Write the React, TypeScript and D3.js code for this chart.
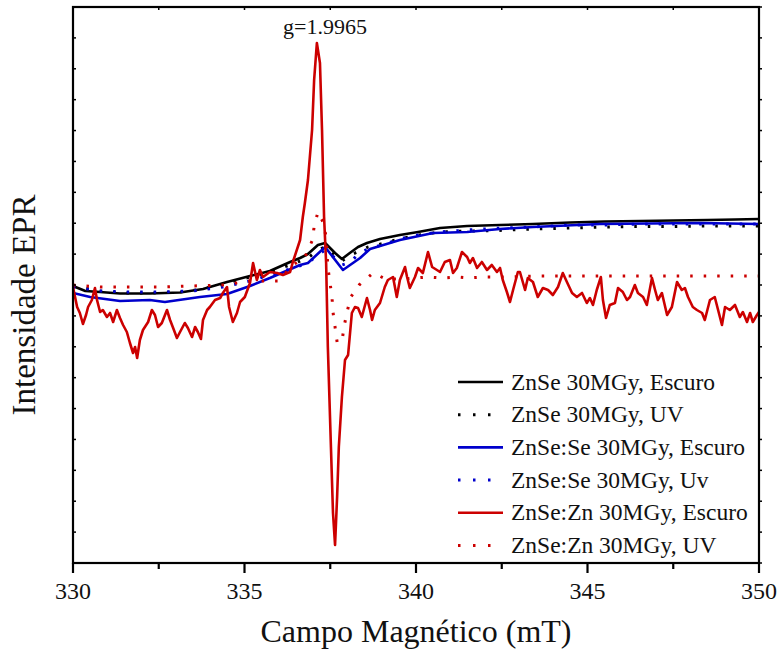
import React from "react";
import * as d3 from "d3";

// ---------- DATA (field in mT, intensity in arbitrary units) ----------
const xTicksMajor = [330, 335, 340, 345, 350];
const xTicksMinor = [332.5, 337.5, 342.5, 347.5];

const znseDark: [number, number][] = [
  [330.0, -1], [330.36, -6], [330.79, -7], [331.37, -8.5], [332.24, -8.5], [333.12, -7.5],
  [333.79, -4], [334.49, 3], [335.16, 9], [335.74, 14], [336.33, 23], [336.62, 27],
  [336.85, 31], [337.14, 40], [337.35, 42], [337.64, 32], [337.84, 26], [338.07, 32],
  [338.31, 38], [338.57, 42], [338.95, 46], [339.53, 50], [340.06, 53], [340.7, 57],
  [341.49, 59], [342.45, 60], [343.41, 61], [344.5, 62.5], [345.5, 63.5], [346.53, 64],
  [347.5, 64.5], [348.5, 65], [349.3, 65.5], [350.0, 66],
];

const znseUV: [number, number][] = [
  [330.0, -1], [330.79, -6], [331.37, -8], [332.24, -8], [333.12, -7], [333.79, -4],
  [334.49, 2], [335.16, 8], [335.74, 13], [336.33, 20], [336.85, 27], [337.14, 35],
  [337.35, 38], [337.84, 24], [338.1, 30], [338.6, 38], [339.1, 42], [339.5, 46],
  [340.1, 50], [340.7, 53], [341.5, 54], [342.4, 54.5], [343.4, 56], [344.5, 57],
  [345.5, 58], [346.5, 58.5], [347.5, 58.5], [348.5, 59], [349.3, 59], [350.0, 59],
];

const znseSeDark: [number, number][] = [
  [330.0, -8], [330.5, -12], [331.37, -16], [332.24, -15], [332.68, -17], [333.7, -12],
  [334.49, -9], [335.16, -1], [335.74, 7], [336.62, 20], [336.85, 22], [337.35, 38],
  [337.87, 15], [338.37, 27], [338.66, 36], [339.53, 45], [340.5, 52], [341.49, 53],
  [342.45, 56], [343.41, 58], [345.36, 61], [348.28, 62], [350.0, 61],
];

const znseSeUV: [number, number][] = [
  [330.0, -2], [330.79, -6], [331.66, -7], [332.54, -7], [333.47, -6], [334.37, -2],
  [335.16, 4], [335.74, 10], [336.33, 16], [336.85, 22], [337.14, 30], [337.35, 35],
  [337.6, 28], [337.84, 20], [338.1, 23], [338.34, 32], [338.6, 36], [339.1, 41],
  [339.53, 46], [340.06, 50], [340.7, 53], [341.5, 55], [342.5, 57], [343.4, 58],
  [344.5, 60], [345.5, 60], [346.5, 61], [347.5, 61], [348.5, 61], [349.3, 61], [350.0, 61],
];

const znseZnDark: [number, number][] = [
  [330.0, -2], [330.12, -22], [330.2, -28], [330.29, -39], [330.38, -30], [330.44, -22],
  [330.55, -15], [330.64, -3], [330.7, -15], [330.79, -27], [330.87, -25], [330.99, -32],
  [331.08, -28], [331.17, -37], [331.28, -25], [331.37, -33], [331.46, -40], [331.57, -47],
  [331.66, -58], [331.75, -68], [331.81, -62], [331.87, -73], [331.95, -55], [332.04, -45],
  [332.19, -37], [332.3, -25], [332.39, -30], [332.48, -42], [332.59, -38], [332.74, -25],
  [332.83, -35], [332.92, -43], [333.03, -53], [333.12, -47], [333.26, -38], [333.35, -43],
  [333.47, -52], [333.56, -42], [333.64, -47], [333.73, -54], [333.79, -35], [333.91, -25],
  [333.99, -22], [334.14, -15], [334.29, -13], [334.37, -8], [334.49, -2], [334.55, -22],
  [334.66, -37], [334.78, -28], [334.87, -17], [335.01, -12], [335.16, 2], [335.25, 22],
  [335.36, 5], [335.45, 15], [335.54, 8], [335.74, 13], [335.95, 12], [336.12, 10],
  [336.33, 13], [336.41, 23], [336.62, 45], [336.7, 68], [336.76, 82], [336.85, 105],
  [336.97, 155], [337.03, 205], [337.11, 242], [337.2, 222], [337.26, 155], [337.32, 68],
  [337.38, 22], [337.43, -62], [337.52, -162], [337.58, -228], [337.64, -260], [337.7, -212],
  [337.75, -162], [337.84, -112], [337.93, -75], [338.02, -70], [338.13, -28], [338.22, -22],
  [338.31, -23], [338.42, -32], [338.57, -13], [338.66, -25], [338.72, -35], [338.8, -25],
  [338.95, -18], [339.09, -2], [339.18, 5], [339.33, 8], [339.44, -12], [339.53, 5],
  [339.68, 18], [339.74, 8], [339.82, -3], [339.97, 8], [340.06, 17], [340.2, 12],
  [340.35, 33], [340.47, 18], [340.61, 15], [340.7, 13], [340.84, 23], [340.99, 25],
  [341.08, 12], [341.19, 17], [341.34, 33], [341.49, 28], [341.57, 22], [341.66, 27],
  [341.78, 17], [341.92, 23], [342.07, 15], [342.21, 20], [342.36, 13], [342.45, 17],
  [342.53, 5], [342.65, -7], [342.74, -17], [342.83, -5], [342.97, 13], [343.03, 13],
  [343.18, -5], [343.26, 7], [343.41, 3], [343.55, -12], [343.7, -3], [343.85, -5],
  [343.99, -10], [344.14, -2], [344.28, 12], [344.4, 3], [344.55, -8], [344.69, -12],
  [344.84, -8], [344.98, -18], [345.07, -13], [345.16, -20], [345.27, -5], [345.39, 8],
  [345.45, -15], [345.54, -33], [345.65, -20], [345.8, -18], [345.89, -3], [346.03, -7],
  [346.15, -15], [346.24, -12], [346.38, 0], [346.47, -8], [346.62, -12], [346.73, -20],
  [346.88, 7], [346.97, -5], [347.05, -15], [347.17, -8], [347.32, -30], [347.46, -22],
  [347.61, 3], [347.75, -5], [347.84, -3], [347.93, -12], [348.07, -22], [348.19, -25],
  [348.34, -28], [348.42, -35], [348.57, -15], [348.71, -12], [348.92, -40], [349.01, -22],
  [349.15, -25], [349.3, -20], [349.44, -32], [349.53, -27], [349.65, -37], [349.74, -28],
  [349.82, -37], [349.94, -30], [350.0, -27],
];

const znseZnUV: [number, number][] = [
  [330.0, 0], [330.79, -2], [331.66, -2], [332.54, -2], [333.47, -1], [334.37, 0],
  [335.16, 4], [335.98, 4], [336.41, 20], [336.76, 28], [336.97, 44], [337.03, 58],
  [337.14, 73], [337.29, 63], [337.38, 48], [337.43, 18], [337.49, 3], [337.55, -12],
  [337.58, -27], [337.64, -42], [337.7, -57], [337.84, -57], [337.9, -42], [337.99, -27],
  [338.1, -12], [338.34, 0], [338.75, 12], [339.12, 6], [339.62, 6], [340.35, 8],
  [340.76, 7], [341.19, 8], [341.51, 7], [341.95, 8], [342.71, 8], [343.5, 9], [350.0, 9],
];

const seriesNames = [
  "ZnSe 30MGy, Escuro",
  "ZnSe 30MGy, UV",
  "ZnSe:Se 30MGy, Escuro",
  "ZnSe:Se 30MGy, Uv",
  "ZnSe:Zn 30MGy, Escuro",
  "ZnSe:Zn 30MGy, UV",
];
const seriesData = [znseDark, znseUV, znseSeDark, znseSeUV, znseZnDark, znseZnUV];
const seriesColors = ["#000000", "#000000", "#0000cc", "#0000cc", "#cc0000", "#cc0000"];
const seriesDotted = [false, true, false, true, false, true];

const xLabel = "Campo Magnético (mT)";
const yLabel = "Intensidade EPR";
const peakLabel = "g=1.9965";

// ---------- LAYOUT ----------
const W = 778;
const H = 650;
const L = 73, R = 759, T = 7, B = 563;
const FONT = "'Liberation Serif', 'Times New Roman', serif";
const txt = { fontFamily: FONT, fill: "#111" } as React.CSSProperties;

export default function App() {
  const x = d3.scaleLinear().domain([330, 350]).range([L, R]);
  const y = d3.scaleLinear().domain([-278, 278]).range([B, T]);
  const line = d3
    .line<[number, number]>()
    .x((d) => x(d[0]))
    .y((d) => y(d[1]))
    .curve(d3.curveLinear);

  const yTickVals = d3.range(0, 19).map((k) => -278 + (556 / 18) * k);
  const topTicks = d3.range(330, 350.01, 2.5);

  const legendX1 = 458, legendX2 = 503, legendTextX = 511;
  const legendY0 = 382, legendDy = 32.7;

  return (
    <svg
      width={W}
      height={H}
      style={{ position: "absolute", left: 0, top: 0, background: "#fff" }}
    >
      <rect x={0} y={0} width={W} height={H} fill="#fff" />
      <defs>
        <clipPath id="plotclip">
          <rect x={L} y={T} width={R - L} height={B - T} />
        </clipPath>
      </defs>

      {/* series */}
      <g clipPath="url(#plotclip)">
        {seriesData.map((d, i) => (
          <path
            key={i}
            d={line(d) || ""}
            fill="none"
            stroke={seriesColors[i]}
            strokeWidth={seriesDotted[i] ? 3 : 2.6}
            strokeDasharray={seriesDotted[i] ? "2.5 11" : undefined}
            strokeLinejoin="round"
          />
        ))}
      </g>

      {/* frame */}
      <rect x={L} y={T} width={R - L} height={B - T} fill="none" stroke="#000" strokeWidth={2.2} />

      {/* bottom ticks */}
      {xTicksMajor.map((v) => (
        <g key={"M" + v}>
          <line x1={x(v)} x2={x(v)} y1={B} y2={B + 10} stroke="#000" strokeWidth={2.2} />
          <text x={x(v)} y={599} textAnchor="middle" fontSize={24} style={txt}>
            {v}
          </text>
        </g>
      ))}
      {xTicksMinor.map((v) => (
        <line key={"m" + v} x1={x(v)} x2={x(v)} y1={B} y2={B + 6} stroke="#000" strokeWidth={2.2} />
      ))}
      {/* top ticks */}
      {topTicks.map((v) => (
        <line key={"t" + v} x1={x(v)} x2={x(v)} y1={T} y2={T + 3} stroke="#000" strokeWidth={1.5} />
      ))}
      {/* left / right ticks */}
      {yTickVals.map((v, i) => (
        <g key={"y" + i}>
          <line x1={L} x2={L + 3} y1={y(v)} y2={y(v)} stroke="#000" strokeWidth={1.5} />
          <line x1={R} x2={R + 3} y1={y(v)} y2={y(v)} stroke="#000" strokeWidth={1.5} />
        </g>
      ))}

      {/* axis titles */}
      <text x={416} y={642} textAnchor="middle" fontSize={32} style={txt}>
        {xLabel}
      </text>
      <text
        transform={`translate(35, ${(T + B) / 2 + 20}) rotate(-90)`}
        textAnchor="middle"
        fontSize={33}
        style={txt}
      >
        {yLabel}
      </text>

      {/* peak annotation */}
      <text x={325} y={34} textAnchor="middle" fontSize={22} style={txt}>
        {peakLabel}
      </text>

      {/* legend */}
      {seriesNames.map((name, i) => {
        const ly = legendY0 + legendDy * i;
        return (
          <g key={name}>
            <line
              x1={legendX1}
              x2={legendX2}
              y1={ly}
              y2={ly}
              stroke={seriesColors[i]}
              strokeWidth={seriesDotted[i] ? 3 : 2.6}
              strokeDasharray={seriesDotted[i] ? "2.5 12.5" : undefined}
            />
            <text x={legendTextX} y={ly + 7.5} fontSize={23.5} style={txt}>
              {name}
            </text>
          </g>
        );
      })}
    </svg>
  );
}
